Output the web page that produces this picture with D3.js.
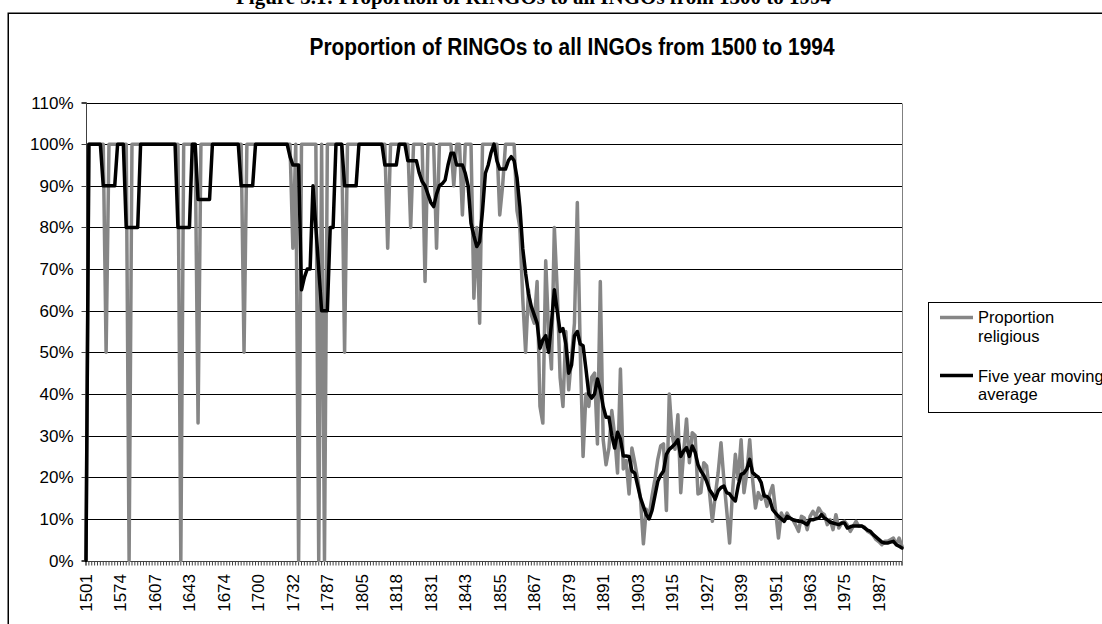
<!DOCTYPE html>
<html><head><meta charset="utf-8">
<script src="https://cdn.jsdelivr.net/npm/d3@7"></script>
<style>
html,body{margin:0;padding:0;background:#fff;overflow:hidden;}
svg{display:block;}
text{font-family:"Liberation Sans",Arial,sans-serif;fill:#000;}
</style></head><body>
<svg id="c" width="1102" height="624"></svg>
<script>
// Categories: years that have data (category axis, labels every 12th category)
const years = [
1501,1510,1520,1526,1531,1540,1545,1550,1555,1560,
1565,1570,1574,1576,1580,1582,1585,1588,1590,1593,
1596,1599,1601,1604,1607,1610,1613,1617,1620,1622,
1625,1628,1631,1634,1637,1640,1643,1646,1648,1651,
1654,1656,1659,1661,1664,1666,1669,1671,1674,1676,
1678,1680,1683,1685,1687,1689,1691,1693,1695,1698,
1700,1702,1705,1708,1710,1713,1716,1718,1720,1723,
1726,1729,1732,1736,1740,1745,1749,1753,1757,1760,
1765,1770,1776,1781,1787,1788,1790,1792,1793,1795,
1797,1798,1800,1801,1802,1804,1805,1806,1807,1808,
1809,1810,1811,1813,1814,1815,1816,1817,1818,1819,
1820,1821,1822,1823,1824,1825,1827,1828,1829,1830,
1831,1832,1833,1834,1835,1836,1837,1838,1839,1840,
1841,1842,1843,1844,1845,1846,1847,1848,1849,1850,
1851,1852,1853,1854,1855,1856,1857,1858,1859,1860,
1861,1862,1863,1864,1865,1866,1867,1868,1869,1870,
1871,1872,1873,1874,1875,1876,1877,1878,1879,1880,
1881,1882,1883,1884,1885,1886,1887,1888,1889,1890,
1891,1892,1893,1894,1895,1896,1897,1898,1899,1900,
1901,1902,1903,1904,1905,1906,1907,1908,1909,1910,
1911,1912,1913,1914,1915,1916,1917,1918,1919,1920,
1921,1922,1923,1924,1925,1926,1927,1928,1929,1930,
1931,1932,1933,1934,1935,1936,1937,1938,1939,1940,
1941,1942,1943,1944,1945,1946,1947,1948,1949,1950,
1951,1952,1953,1954,1955,1956,1957,1958,1959,1960,
1961,1962,1963,1964,1965,1966,1967,1968,1969,1970,
1971,1972,1973,1974,1975,1976,1977,1978,1979,1980,
1981,1982,1983,1984,1985,1986,1987,1988,1989,1990,
1991,1992,1993,1994,1995
];
// Proportion religious (percent)
const proportionReligious = [
0,100,100,100,100,100,100,50,100,100,
100,100,100,100,100,0,100,100,100,100,
100,100,100,100,100,100,100,100,100,100,
100,100,100,0,100,100,100,100,100,33,
100,100,100,100,100,100,100,100,100,100,
100,100,100,100,100,50,100,100,100,100,
100,100,100,100,100,100,100,100,100,100,
100,100,75,100,0,100,100,100,100,100,
100,0,100,0,100,100,100,100,100,100,
50,100,100,100,100,100,100,100,100,100,
100,100,100,100,100,75,100,100,100,100,
100,100,100,80,100,100,100,100,67,100,
100,100,75,100,100,100,100,100,90,100,
100,83,100,100,100,63,80,57,100,100,
100,100,100,100,83,90,100,100,100,100,
84,80,63,50,65,59,57,67,37,33,
72,55,46,80,65,44,37,55,41,49,
57,86,51,25,40,37,44,45,28,67,
29,23,27,36,30,21,46,22,24,16,
27,23.5,19.5,14.7,4,12.3,10.6,15.5,19.5,24.3,
27.5,28,12,40,30,26.7,35,16.3,26,34,
23.5,30.7,30,16,16.3,23.5,22.7,16.3,9.4,15.5,
21,28.3,19.5,12,4.2,16.3,25.5,19.5,29,16.3,
21,29,19.5,12.6,16.3,14.7,16,13,16,18,
12,5.4,11.4,9.8,11.4,10.2,9.8,8.5,7,10.6,
10.2,7.4,10.6,11.8,10.6,12.6,11.5,11,8.6,9.8,
7.4,11,7.8,9,9.4,8.5,7,8.2,9.4,8.2,
8.2,8,7,6.6,6,5,4.5,3.8,4.6,4.6,
5,5.4,3.8,5.4,3.4
];
// Five year moving average (percent)
const fiveYearAverage = [
0,100,100,100,100,100,90,90,90,90,
90,100,100,100,80,80,80,80,80,100,
100,100,100,100,100,100,100,100,100,100,
100,100,80,80,80,80,80,100,100,86.7,
86.7,86.7,86.7,86.7,100,100,100,100,100,100,
100,100,100,100,90,90,90,90,90,100,
100,100,100,100,100,100,100,100,100,100,
100,97,95,95,95,65,68,70,70,90,
80,70,60,60,60,80,80,100,100,100,
90,90,90,90,90,100,100,100,100,100,
100,100,100,100,95,95,95,95,95,100,
100,100,96,96,96,96,93,91,90,88,
86,85,88,90,90.5,91.4,95,97.8,97.8,95,
95,95,93,90,81,78,75.4,76.6,84,93,
95,98,100,96,94,94,94,96,97,96,
92,85,75,69,64,61,59,57,51,53,
54,50,57,65,60,55,55.7,52,45,47,
54,55,52,51.6,46,40,39,40,43.6,41,
37,34.4,34.4,30,27,30.8,29.2,25.1,25.1,25,
21.5,21,18,15,13,11,10,12,15.5,19,
20.5,21.5,25.5,26.7,27.3,28,29,25,26.3,27.1,
25,27.5,26,23,21.5,20.5,19,17,16,14.7,
16.7,17.5,17.9,16.3,16,15,14.3,18,20.7,21,
22,24.3,21.1,20.5,20,18.7,15.5,15.4,14.6,12.2,
11.4,10.6,10,9.4,10.6,10.2,9.8,9.6,9.4,9.4,
9,8.6,9.8,9.8,10,10.2,11,10.2,9.8,9.2,
9,8.8,8.6,9,9,7.8,8.1,8.3,8.3,8.3,
8.3,7.8,7.3,7,6.2,5.6,5,4.4,4.2,4.2,
4.4,4.6,3.8,3.4,3
];
const yTickValues = [0,0.1,0.2,0.3,0.4,0.5,0.6,0.7,0.8,0.9,1.0,1.1];
const labelEvery = 12;
const seriesNames = ["Proportion religious","Five year moving average"];

const svg = d3.select("#c");
const W = 1102, H = 624;
const plot = {left:86, right:902, top:102.5, bottom:560.5};
const grayCol = "#868686";

svg.append("rect").attr("width",W).attr("height",H).attr("fill","#fff");

// caption above chart (mostly cut off)
svg.append("text").attr("x",236).attr("y",3.5)
  .style("font-family",'"Liberation Serif","Times New Roman",serif')
  .style("font-weight","bold").style("font-size","21px")
  .text("Figure 3.1: Proportion of RINGOs to all INGOs from 1500 to 1994");

// chart border
svg.append("rect").attr("x",8.25).attr("y",13.25).attr("width",1200).attr("height",700)
  .attr("fill","none").attr("stroke","#000").attr("stroke-width",1.5);

// title
svg.append("text").attr("x",572).attr("y",54.5).attr("text-anchor","middle")
  .attr("textLength",525).attr("lengthAdjust","spacingAndGlyphs")
  .style("font-weight","bold").style("font-size","23px")
  .text("Proportion of RINGOs to all INGOs from 1500 to 1994");

const x = d3.scalePoint().domain(years).range([plot.left, plot.right]).padding(0);
const y = d3.scaleLinear().domain([0,1.1]).range([plot.bottom, plot.top]);

// gridlines
svg.append("g").selectAll("line").data(yTickValues).join("line")
  .attr("x1",plot.left).attr("x2",plot.right)
  .attr("y1",d=>Math.round(y(d))+0.5).attr("y2",d=>Math.round(y(d))+0.5)
  .attr("stroke","#000").attr("stroke-width",1);

// plot border (right side)
svg.append("line").attr("x1",plot.right+0.5).attr("x2",plot.right+0.5)
  .attr("y1",Math.round(y(1.1))+0.5).attr("y2",Math.round(y(0))+0.5)
  .attr("stroke","#808080").attr("stroke-width",1);

// y axis
const yAxis = svg.append("g").attr("transform",`translate(${plot.left+0.5},0)`)
  .call(d3.axisLeft(y).tickValues(yTickValues).tickFormat(d3.format(".0%")).tickSize(5).tickPadding(8).offset(0));
yAxis.selectAll(".tick").attr("transform",d=>`translate(0,${Math.round(y(d))+0.5})`);
yAxis.select(".domain").attr("stroke","#404040");
yAxis.selectAll(".tick line").attr("stroke","#404040");
yAxis.selectAll("text").style("font-size","17px").style("font-family",'"Liberation Sans",Arial,sans-serif').attr("fill","#000");

// x axis
const labelSet = new Set(years.filter((d,i)=>i%labelEvery===0));
const xAxis = svg.append("g").attr("transform",`translate(0,${Math.round(y(0))+0.5})`)
  .call(d3.axisBottom(x).tickValues(years).tickSize(4).offset(0)
    .tickFormat(d=>labelSet.has(d)?String(d):""));
xAxis.select(".domain").attr("stroke","#404040");
xAxis.selectAll(".tick line").attr("stroke","#404040");
xAxis.selectAll("text")
  .attr("transform","rotate(-90)").attr("x",-12.5).attr("y",0).attr("dy","0.35em")
  .style("text-anchor","end").style("font-size","17px")
  .style("font-family",'"Liberation Sans",Arial,sans-serif').attr("fill","#000");

// series
const line = d3.line().x((d,i)=>x(years[i])).y(d=>y(d/100));
svg.append("path").datum(proportionReligious).attr("d",line)
  .attr("fill","none").attr("stroke",grayCol).attr("stroke-width",3.5)
  .attr("stroke-linejoin","round").attr("stroke-linecap","round");
svg.append("path").datum(fiveYearAverage).attr("d",line)
  .attr("fill","none").attr("stroke","#000").attr("stroke-width",3.5)
  .attr("stroke-linejoin","round").attr("stroke-linecap","round");

// legend
const lg = svg.append("g");
lg.append("rect").attr("x",928.5).attr("y",302.5).attr("width",300).attr("height",110)
  .attr("fill","#fff").attr("stroke","#000").attr("stroke-width",1);
lg.append("line").attr("x1",940).attr("x2",973).attr("y1",317.5).attr("y2",317.5)
  .attr("stroke",grayCol).attr("stroke-width",3.5);
lg.append("line").attr("x1",940).attr("x2",973).attr("y1",375.5).attr("y2",375.5)
  .attr("stroke","#000").attr("stroke-width",3.5);
const legLines = [["Proportion",323.3],["religious",341.7],["Five year moving",381.7],["average",400]];
lg.selectAll("text.l").data(legLines).join("text").attr("class","l")
  .attr("x",978).attr("y",d=>d[1]).style("font-size","16.5px").text(d=>d[0]);
</script>
</body></html>
